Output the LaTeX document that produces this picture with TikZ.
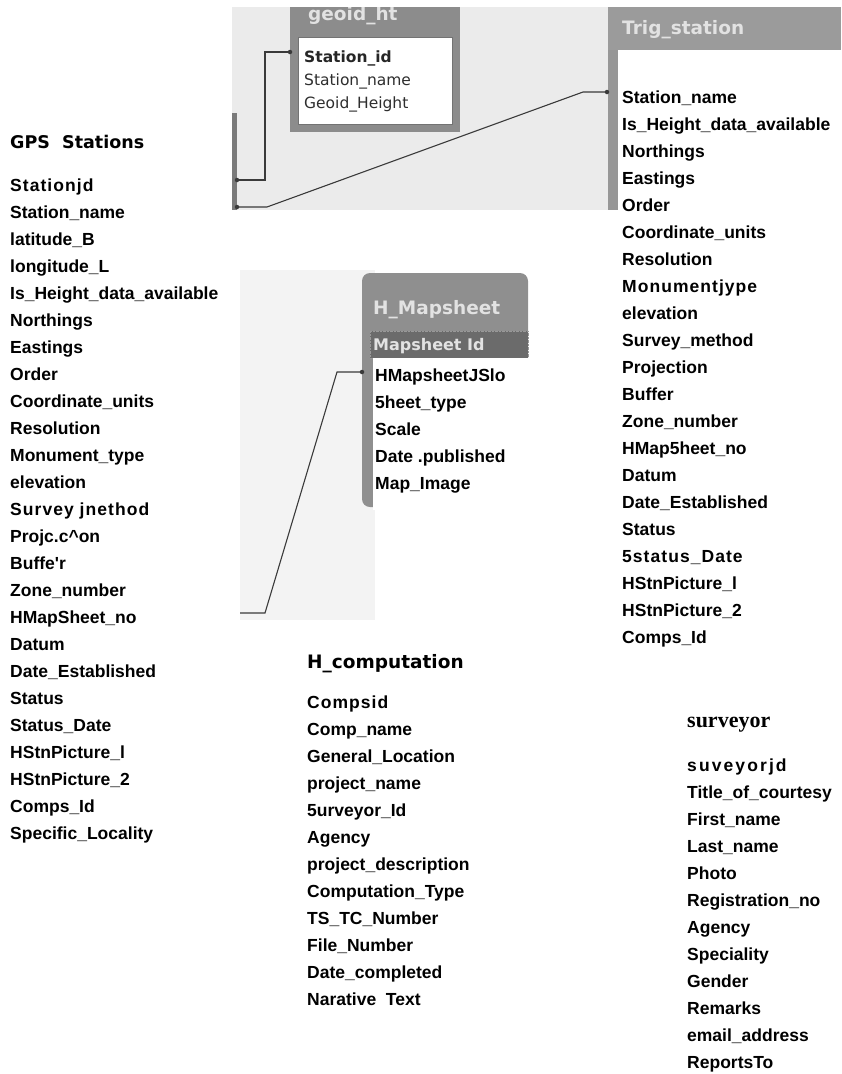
\documentclass[tikz,border=0pt]{standalone}
\usepackage{fontspec}
\newfontfamily\arialf{Liberation Sans}
\newfontfamily\arialsp{Liberation Sans}[LetterSpace=6]
\newfontfamily\arialwide{Liberation Sans}[LetterSpace=12]
\newfontfamily\dejaf{DejaVu Sans}
\newfontfamily\timesf{Liberation Serif}
\definecolor{band}{HTML}{EBEBEB}
\definecolor{lightarea}{HTML}{F3F3F3}
\definecolor{framec}{HTML}{8C8C8C}
\definecolor{trighdr}{HTML}{9B9B9B}
\definecolor{hmbox}{HTML}{8F8F8F}
\definecolor{hmrow}{HTML}{6B6B6B}
\definecolor{hdrtext}{HTML}{E2E2E2}
\definecolor{linkc}{HTML}{3A3A3A}
\definecolor{gpsedge}{HTML}{7A7A7A}
\definecolor{geotext}{HTML}{2E2E2E}
\tikzset{
  fld/.style={anchor=base west, inner sep=0pt, text=black,
    font=\arialf\bfseries\fontsize{17.5}{20}\selectfont},
  ttl/.style={anchor=base west, inner sep=0pt, text=black,
    font=\dejaf\bfseries\fontsize{17.5}{20}\selectfont},
  gfld/.style={anchor=base west, inner sep=0pt, text=geotext,
    font=\dejaf\fontsize{15.5}{18}\selectfont},
  hdr/.style={anchor=base west, inner sep=0pt, text=hdrtext,
    font=\dejaf\bfseries\fontsize{18.5}{20}\selectfont},
  link/.style={draw=linkc, line width=1.1pt},
  jdot/.style={circle, fill=linkc, inner sep=0pt, minimum size=4.5pt},
}
\begin{document}
\begin{tikzpicture}[x=1pt,y=-1pt]
\useasboundingbox (0,0) rectangle (841,1074);
% ---------- background patches (screenshot pieces)
\fill[band] (232,7) rectangle (608,210);
\fill[lightarea] (240,270) rectangle (375,620);
\fill[gpsedge] (232,113) rectangle (237,210);
% geoid_ht table
\fill[framec] (290,7) rectangle (460,132);
\fill[white] (298,37) rectangle (452,124);
\draw[black!55, line width=0.8pt] (298,37) rectangle (452,124);
\begin{scope}
  \clip (232,7) rectangle (608,210);
  \node[hdr] (geoidhdr) at (308,20) {geoid\_ht};
\end{scope}
\node[gfld, font=\dejaf\bfseries\fontsize{15.5}{18}\selectfont, text=black!85] (geo0) at (304,62.5) {Station\_id};
\node[gfld] (geo1) at (304,85.5) {Station\_name};
\node[gfld] (geo2) at (304,108.5) {Geoid\_Height};
% Trig_station table pieces
\fill[trighdr] (608,7) rectangle (841,50);
\fill[framec!90] (608,50) rectangle (618,210);
\node[hdr] (trighdr) at (622,34) {Trig\_station};
% H_Mapsheet table
\fill[hmbox, rounded corners=8pt] (362,273) rectangle (528,507);
\fill[hmrow] (370,331) rectangle (528,358);
\draw[black!40, densely dotted] (370,331) rectangle (528,358);
\fill[white] (373,358) rectangle (530,510);
\node[hdr] (hmhdr) at (373,314) {H\_Mapsheet};
\node[anchor=base west, inner sep=0pt, text=hdrtext,
  font=\dejaf\bfseries\fontsize{16}{18}\selectfont] (hmid) at (373,350) {Mapsheet Id};
% ---------- connector end points
\coordinate (gA) at (237,180);
\coordinate (gB) at (290,52);
\coordinate (gC) at (237,207);
\coordinate (tIn) at (607,92);
\coordinate (hC) at (240,613);
\coordinate (hIn) at (362,372);
\draw[link] (gA) -- ++(28,0) |- (gB);
\draw[link] (gC) -- ++(30,0) -- ++(316,-115) -- (tIn);
\draw[link] (hC) -- ++(25,0) -- ++(72,-241) -- (hIn);
\foreach \p in {gA,gB,gC,tIn,hIn} \node[jdot] at (\p) {};
% ---------- GPS Stations
\node[ttl] (gpst) at (10,148) {GPS\ \ Stations};
\foreach \t [count=\i from 0] in {{\arialsp Stationjd},Station\_name,latitude\_B,longitude\_L,
  Is\_Height\_data\_available,Northings,Eastings,Order,Coordinate\_units,Resolution,
  Monument\_type,elevation,{\arialsp Survey jnethod},Projc.c\textasciicircum on,Buffe'r,Zone\_number,
  HMapSheet\_no,Datum,Date\_Established,Status,Status\_Date,HStnPicture\_l,HStnPicture\_2,
  Comps\_Id,Specific\_Locality}
  \node[fld] (gps\i) at (10,191+27*\i) {\t};
% ---------- Trig_station fields
\foreach \t [count=\i from 0] in {Station\_name,Is\_Height\_data\_available,Northings,Eastings,
  Order,Coordinate\_units,Resolution,{\arialsp Monumentjype},elevation,Survey\_method,Projection,
  Buffer,Zone\_number,HMap5heet\_no,Datum,Date\_Established,Status,{\arialsp 5status\_Date},
  HStnPicture\_l,HStnPicture\_2,Comps\_Id}
  \node[fld] (trig\i) at (622,103+27*\i) {\t};
% ---------- H_Mapsheet fields
\foreach \t [count=\i from 0] in {HMapsheetJSlo,5heet\_type,Scale,Date .published,Map\_Image}
  \node[fld] (hm\i) at (375,381+27*\i) {\t};
% ---------- H_computation
\node[ttl, font=\dejaf\bfseries\fontsize{18.5}{20}\selectfont] (compt) at (307,668) {H\_computation};
\foreach \t [count=\i from 0] in {{\arialsp Compsid},Comp\_name,General\_Location,project\_name,
  5urveyor\_Id,Agency,project\_description,Computation\_Type,TS\_TC\_Number,File\_Number,
  Date\_completed,Narative\ \ Text}
  \node[fld] (comp\i) at (307,708+27*\i) {\t};
% ---------- surveyor
\node[anchor=base west, inner sep=0pt,
  font=\timesf\bfseries\fontsize{22}{24}\selectfont] (survt) at (687,727) {surveyor};
\foreach \t [count=\i from 0] in {{\arialwide suveyorjd},Title\_of\_courtesy,First\_name,Last\_name,
  Photo,Registration\_no,Agency,Speciality,Gender,Remarks,email\_address,ReportsTo}
  \node[fld] (surv\i) at (687,771+27*\i) {\t};
\end{tikzpicture}
\end{document}
